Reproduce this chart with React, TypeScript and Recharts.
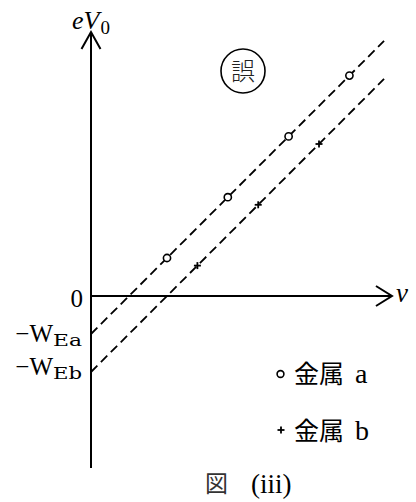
import React from "react";
import {
  ComposedChart,
  XAxis,
  YAxis,
  Scatter,
  ReferenceLine,
  ReferenceDot,
} from "recharts";

// Measured points (frequency ν, maximum kinetic energy eV0)
const metalA = [
  { nu: 2.5, e: 1.25 },
  { nu: 4.5, e: 3.25 },
  { nu: 6.5, e: 5.25 },
  { nu: 8.5, e: 7.25 },
];
const metalB = [
  { nu: 3.5, e: 1.0 },
  { nu: 5.5, e: 3.0 },
  { nu: 7.5, e: 5.0 },
];

// Fitted straight lines (dashed), from the eV0 intercept up to the upper end
const lineA = [
  { nu: 0, e: -1.25 },
  { nu: 9.64, e: 8.39 },
];
const lineB = [
  { nu: 0, e: -2.5 },
  { nu: 9.64, e: 7.14 },
];

// Axis extents
const nuDomain: [number, number] = [0, 10.197];
const eDomain: [number, number] = [-5.658, 8.684];
const nuAxisEnd = 9.9;

// Tick values on the eV0 axis and their labels
const yTicks = [0, -1.25, -2.5];
const yTickLabels = [
  { main: "0", sub: "" },
  { main: "−W", sub: "Ea" },
  { main: "−W", sub: "Eb" },
];

const legendLabels = [
  { name: "金属", letter: "a" },
  { name: "金属", letter: "b" },
];
const captionLabel = { fig: "図", num: "(iii)" };
const stampLabel = "誤";

const SERIF = "'Liberation Serif', serif";
const WIDE_SERIF = "'DejaVu Serif', serif";
const CJK = "'Noto Sans CJK JP', 'Noto Sans CJK SC', sans-serif";

// Vertical nudges for the tick label baselines
const tickBaseline = [11, 8, 3];

const YTick = (props: any) => {
  const { x, y, payload } = props;
  const i = yTicks.indexOf(payload.value);
  if (i < 0) return null;
  const lab = yTickLabels[i];
  const by = y + tickBaseline[i];
  if (!lab.sub) {
    return (
      <text x={x} y={by} textAnchor="end" fontFamily={SERIF} fontSize={25} fill="#000">
        {lab.main}
      </text>
    );
  }
  return (
    <g>
      <text x={x - 30} y={by} textAnchor="end" fontFamily={SERIF} fontSize={25} fill="#000">
        {lab.main}
      </text>
      <text
        x={x - 30}
        y={by + 4}
        fontFamily={WIDE_SERIF}
        fontSize={16}
        fill="#000"
        textLength={29}
        lengthAdjust="spacingAndGlyphs"
      >
        {lab.sub}
      </text>
    </g>
  );
};

const OpenCircle = (props: any) => {
  const { cx, cy } = props;
  return <circle cx={cx} cy={cy} r={3.6} fill="#fff" stroke="#000" strokeWidth={1.6} />;
};

const Plus = (props: any) => {
  const { cx, cy } = props;
  const a = 3.5;
  return (
    <g stroke="#000" strokeWidth={1.8}>
      <line x1={cx - a} y1={cy} x2={cx + a} y2={cy} />
      <line x1={cx} y1={cy - a} x2={cx} y2={cy + a} />
    </g>
  );
};

const ArrowUp = (props: any) => {
  const { cx, cy } = props;
  return (
    <g>
      <polyline
        points={`${cx - 9.5},${cy + 17} ${cx},${cy} ${cx + 9.5},${cy + 17}`}
        fill="none"
        stroke="#000"
        strokeWidth={2}
      />
      <text x={cx - 19} y={cy - 3} fontFamily={SERIF} fontSize={26} fontStyle="italic" fill="#000">
        eV
      </text>
      <text x={cx + 9.5} y={cy + 2} fontFamily={SERIF} fontSize={19} fill="#000">
        0
      </text>
    </g>
  );
};

const ArrowRight = (props: any) => {
  const { cx, cy } = props;
  return (
    <g>
      <polyline
        points={`${cx - 16},${cy - 10} ${cx},${cy} ${cx - 16},${cy + 10}`}
        fill="none"
        stroke="#000"
        strokeWidth={2}
      />
      <text x={cx + 4} y={cy + 6} fontFamily={SERIF} fontSize={27} fontStyle="italic" fill="#000">
        ν
      </text>
    </g>
  );
};

const Overlay = () => (
  <svg
    width={416}
    height={502}
    style={{ position: "absolute", left: 0, top: 0, pointerEvents: "none" }}
  >
    {/* stamped mark */}
    <circle cx={243} cy={71} r={22} fill="none" stroke="#000" strokeWidth={1.6} />
    <text
      x={243}
      y={79.5}
      textAnchor="middle"
      fontFamily={CJK}
      fontSize={24}
      fontWeight={300}
      fill="#222"
    >
      {stampLabel}
    </text>

    {/* legend */}
    <circle cx={280.5} cy={374} r={3.4} fill="#fff" stroke="#000" strokeWidth={1.6} />
    <text x={294} y={383} fill="#000">
      <tspan fontFamily={CJK} fontSize={25}>
        {legendLabels[0].name}
      </tspan>
      <tspan x={355} fontFamily={SERIF} fontSize={28}>
        {legendLabels[0].letter}
      </tspan>
    </text>
    <g stroke="#000" strokeWidth={1.8}>
      <line x1={277.5} y1={430} x2={284.5} y2={430} />
      <line x1={281} y1={426.5} x2={281} y2={433.5} />
    </g>
    <text x={294} y={440} fill="#000">
      <tspan fontFamily={CJK} fontSize={25}>
        {legendLabels[1].name}
      </tspan>
      <tspan x={355} fontFamily={SERIF} fontSize={28}>
        {legendLabels[1].letter}
      </tspan>
    </text>

    {/* caption */}
    <text x={205} y={492} fontFamily={CJK} fontSize={23} fill="#333">
      {captionLabel.fig}
    </text>
    <text x={251} y={493} fontFamily={SERIF} fontSize={27} fill="#000">
      {captionLabel.num}
    </text>
  </svg>
);

export default function App() {
  return (
    <div
      style={{
        position: "absolute",
        left: 0,
        top: 0,
        width: 416,
        height: 502,
        background: "#fff",
      }}
    >
      <ComposedChart
        width={416}
        height={502}
        margin={{ top: 32, right: 15, bottom: 34, left: 0 }}
      >
        <XAxis
          type="number"
          dataKey="nu"
          domain={nuDomain}
          allowDataOverflow
          hide
        />
        <YAxis
          type="number"
          dataKey="e"
          domain={eDomain}
          allowDataOverflow
          width={91}
          ticks={yTicks}
          interval={0}
          axisLine={false}
          tickLine={false}
          tickSize={0}
          tickMargin={8}
          tick={<YTick />}
        />
        {/* axes */}
        <ReferenceLine x={0} stroke="#000" strokeWidth={2} ifOverflow="visible" />
        <ReferenceLine
          segment={[
            { x: 0, y: 0 },
            { x: nuAxisEnd, y: 0 },
          ]}
          stroke="#000"
          strokeWidth={2}
          ifOverflow="visible"
        />
        <ReferenceDot x={0} y={eDomain[1]} ifOverflow="visible" shape={<ArrowUp />} />
        <ReferenceDot x={nuAxisEnd} y={0} ifOverflow="visible" shape={<ArrowRight />} />

        {/* fitted lines */}
        <ReferenceLine
          segment={[
            { x: lineA[0].nu, y: lineA[0].e },
            { x: lineA[1].nu, y: lineA[1].e },
          ]}
          stroke="#000"
          strokeWidth={1.8}
          strokeDasharray="9 5"
          ifOverflow="visible"
        />
        <ReferenceLine
          segment={[
            { x: lineB[0].nu, y: lineB[0].e },
            { x: lineB[1].nu, y: lineB[1].e },
          ]}
          stroke="#000"
          strokeWidth={1.8}
          strokeDasharray="9 5"
          ifOverflow="visible"
        />

        {/* measured points */}
        <Scatter data={metalA} dataKey="e" shape={<OpenCircle />} isAnimationActive={false} />
        <Scatter data={metalB} dataKey="e" shape={<Plus />} isAnimationActive={false} />
      </ComposedChart>
      <Overlay />
    </div>
  );
}
